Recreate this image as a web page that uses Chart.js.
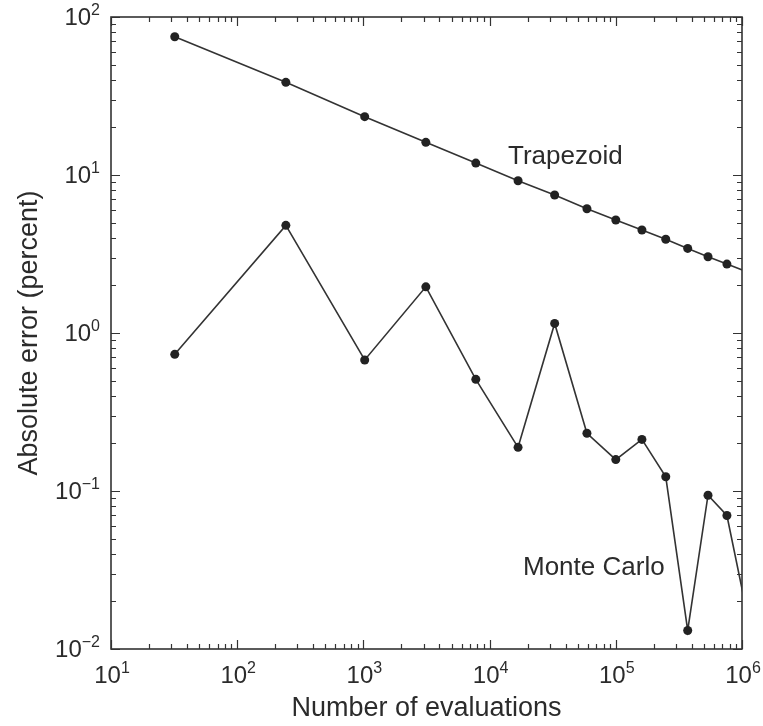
<!DOCTYPE html>
<html>
<head>
<meta charset="utf-8">
<script src="https://cdn.jsdelivr.net/npm/chart.js@4"></script>
<style>
  html, body { margin: 0; padding: 0; background: #fff; }
  #wrap { width: 763px; height: 726px; }
</style>
</head>
<body>
<div id="wrap"><canvas id="c" width="763" height="726"></canvas></div>
<script>
// Number of function evaluations (points per dimension ^ 5)
const evaluations = [32, 243, 1024, 3125, 7776, 16807, 32768, 59049, 100000,
                     161051, 248832, 371293, 537824, 759375, 1048576];
// Absolute error in percent
const trapezoidError = [75.0, 38.6, 23.4, 16.1, 11.9, 9.2, 7.47, 6.12, 5.19,
                        4.49, 3.92, 3.43, 3.04, 2.73, 2.47];
const monteCarloError = [0.733, 4.8, 0.675, 1.96, 0.509, 0.189, 1.15, 0.232, 0.158,
                         0.212, 0.123, 0.0131, 0.094, 0.070, 0.020];
// Axis decades (exponents of ten)
const xDecades = [1, 2, 3, 4, 5, 6];
const yDecades = [-2, -1, 0, 1, 2];
const seriesLabels = ['Trapezoid', 'Monte Carlo'];
const xTitle = 'Number of evaluations';
const yTitle = 'Absolute error (percent)';

const X_MIN = 10, X_MAX = 1e6, Y_MIN = 0.01, Y_MAX = 100;
const INK = '#2b2b2b';
const FONT = '"Liberation Sans", Arial, Helvetica, sans-serif';

function toPoints(ys) {
  return evaluations.map((x, i) => ({ x: x, y: ys[i] }));
}

function supText(k) {
  return k < 0 ? '\u2212' + Math.abs(k) : String(k);
}

const frameAndLabels = {
  id: 'frameAndLabels',
  afterDatasetsDraw(chart) {
    const ctx = chart.ctx;
    const area = chart.chartArea;
    const xs = chart.scales.x, ys = chart.scales.y;
    ctx.save();

    // inward tick marks on all four sides
    ctx.strokeStyle = '#333';
    ctx.lineWidth = 1.2;
    ctx.beginPath();
    for (let k = 1; k <= 6; k++) {
      for (let m = 1; m <= 9; m++) {
        const v = m * Math.pow(10, k);
        if (v < X_MIN || v > X_MAX) continue;
        const px = Math.round(xs.getPixelForValue(v)) + 0.5;
        const len = m === 1 ? 9 : 5;
        ctx.moveTo(px, area.bottom); ctx.lineTo(px, area.bottom - len);
        ctx.moveTo(px, area.top); ctx.lineTo(px, area.top + len);
      }
    }
    for (let k = -2; k <= 2; k++) {
      for (let m = 1; m <= 9; m++) {
        const v = m * Math.pow(10, k);
        if (v < Y_MIN || v > Y_MAX + 1e-9) continue;
        const py = Math.round(ys.getPixelForValue(v)) + 0.5;
        const len = m === 1 ? 9 : 5;
        ctx.moveTo(area.left, py); ctx.lineTo(area.left + len, py);
        ctx.moveTo(area.right, py); ctx.lineTo(area.right - len, py);
      }
    }
    ctx.stroke();

    // frame
    ctx.lineWidth = 1.6;
    ctx.strokeStyle = '#333';
    ctx.strokeRect(area.left, area.top, area.right - area.left, area.bottom - area.top);

    // tick labels with superscript exponents
    ctx.fillStyle = INK;
    ctx.textBaseline = 'alphabetic';
    ctx.textAlign = 'left';
    const baseFont = '24px ' + FONT, supFont = '16px ' + FONT;
    xDecades.forEach(k => {
      const px = xs.getPixelForValue(Math.pow(10, k));
      ctx.font = baseFont; const bw = ctx.measureText('10').width;
      ctx.font = supFont; const sw = ctx.measureText(supText(k)).width;
      const x0 = px - (bw + sw) / 2 + 1;
      ctx.font = baseFont; ctx.fillText('10', x0, area.bottom + 34);
      ctx.font = supFont; ctx.fillText(supText(k), x0 + bw, area.bottom + 24);
    });
    yDecades.forEach(k => {
      const py = ys.getPixelForValue(Math.pow(10, k));
      ctx.font = baseFont; const bw = ctx.measureText('10').width;
      ctx.font = supFont; const sw = ctx.measureText(supText(k)).width;
      const x0 = area.left - 11 - bw - sw;
      ctx.font = baseFont; ctx.fillText('10', x0, py + 8);
      ctx.font = supFont; ctx.fillText(supText(k), x0 + bw, py - 2);
    });

    // axis titles
    ctx.font = '27px ' + FONT;
    ctx.textAlign = 'center';
    ctx.fillText(xTitle, (area.left + area.right) / 2, 716);
    ctx.save();
    ctx.translate(30, (area.top + area.bottom) / 2);
    ctx.rotate(-Math.PI / 2);
    ctx.textBaseline = 'middle';
    ctx.fillText(yTitle, 0, 0);
    ctx.restore();

    // series labels
    ctx.font = '26px ' + FONT;
    ctx.textAlign = 'left';
    ctx.fillText(seriesLabels[0], 508, 164);
    ctx.fillText(seriesLabels[1], 523, 575);

    ctx.restore();
  }
};

const seriesStyle = {
  borderColor: '#333',
  backgroundColor: '#222',
  pointBackgroundColor: '#222',
  pointBorderColor: '#222',
  borderWidth: 1.6,
  pointRadius: c => (c.raw && c.raw.x > X_MAX ? 0 : 4.5),
  pointBorderWidth: 0,
  tension: 0,
  clip: 0
};

new Chart(document.getElementById('c'), {
  type: 'line',
  data: {
    datasets: [
      Object.assign({ label: seriesLabels[0], data: toPoints(trapezoidError) }, seriesStyle),
      Object.assign({ label: seriesLabels[1], data: toPoints(monteCarloError) }, seriesStyle)
    ]
  },
  options: {
    responsive: false,
    animation: false,
    events: [],
    layout: { padding: { left: 111, top: 17, right: 21, bottom: 77 } },
    plugins: { legend: { display: false }, tooltip: { enabled: false } },
    scales: {
      x: {
        type: 'logarithmic', min: X_MIN, max: X_MAX,
        ticks: { display: false },
        grid: { display: false, drawTicks: false },
        border: { display: false }
      },
      y: {
        type: 'logarithmic', min: Y_MIN, max: Y_MAX,
        ticks: { display: false },
        grid: { display: false, drawTicks: false },
        border: { display: false }
      }
    }
  },
  plugins: [frameAndLabels]
});
</script>
</body>
</html>
